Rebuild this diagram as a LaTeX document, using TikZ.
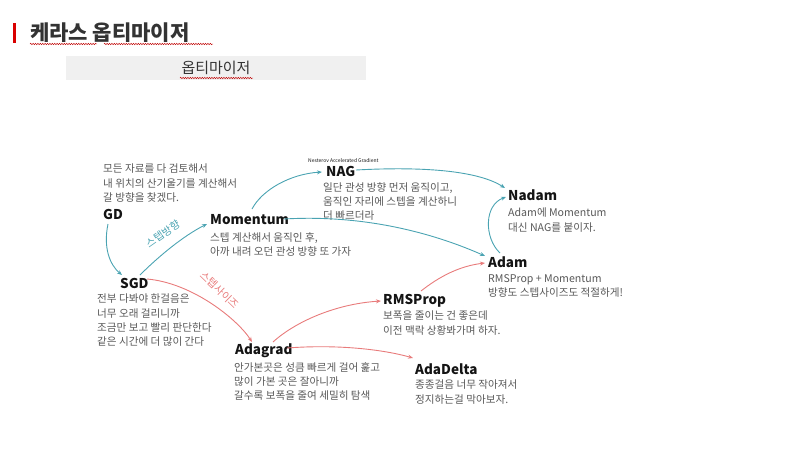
\documentclass[tikz,border=0pt]{standalone}
\usepackage{fontspec}
\setmainfont{Noto Sans CJK KR}
\usetikzlibrary{arrows.meta,calc,decorations.pathmorphing}
\definecolor{tealc}{HTML}{4AA3B2}
\definecolor{redc}{HTML}{E87B7B}
\definecolor{descc}{HTML}{585858}
\definecolor{namec}{HTML}{141414}
\definecolor{titlec}{HTML}{333333}
\begin{document}
\begin{tikzpicture}[x=1pt,y=-1pt,
  namebox/.style={anchor=base west,inner sep=0pt,text=namec,font=\fontsize{13.5}{16}\selectfont\bfseries},
  descbox/.style={anchor=north west,inner sep=0pt,align=left,text=descc,font=\fontsize{10.6}{14.3}\selectfont},
  tealarrow/.style={draw=tealc,line width=0.9pt,-{Stealth[length=5pt,width=4pt]}},
  redarrow/.style={draw=redc,line width=0.9pt,-{Stealth[length=5pt,width=4pt]}},
  squiggle/.style={draw=red!75!black,line width=0.45pt,decorate,decoration={snake,amplitude=0.7pt,segment length=2.4pt}},
  edgelabel/.style={inner sep=0pt,font=\fontsize{10.5}{12}\selectfont}]
\useasboundingbox (0,0) rectangle (796,472);
% header
\fill[red!85!black] (13,23) rectangle (16,43);
\node[anchor=base west,inner sep=0pt,text=titlec,font=\fontsize{21}{24}\selectfont\bfseries] (title) at (30,40) {케라스 옵티마이저};
\draw[squiggle] (30,44) -- (97,44);
\draw[squiggle] (104,44) -- (213,44);
\fill[black!6] (66,56) rectangle (366,80);
\node[inner sep=0pt,text=titlec,font=\fontsize{15}{18}\selectfont] (sub) at (216,68) {옵티마이저};
\draw[squiggle] (180,78) -- (253,78);
% names
\node[namebox] (GD) at (103,219) {GD};
\node[namebox] (SGD) at (120,288) {SGD};
\node[namebox] (Mom) at (210,224) {Momentum};
\node[namebox] (NAG) at (326,176) {NAG};
\node[namebox] (Nadam) at (508,200) {Nadam};
\node[namebox] (Adam) at (488,267) {Adam};
\node[namebox] (RMS) at (383,304) {RMSProp};
\node[namebox] (Adagrad) at (235,354) {Adagrad};
\node[namebox] (AdaDelta) at (415,374) {AdaDelta};
% descriptions
\node[descbox] (GDd) at (103,164) {모든 자료를 다 검토해서\\내 위치의 산기울기를 계산해서\\갈 방향을 찾겠다.};
\node[descbox] (SGDd) at (97,294) {전부 다봐야 한걸음은\\너무 오래 걸리니까\\조금만 보고 빨리 판단한다\\같은 시간에 더 많이 간다};
\node[descbox] (Momd) at (210,232) {스텝 계산해서 움직인 후,\\아까 내려 오던 관성 방향 또 가자};
\node[anchor=base west,inner sep=0pt,text=namec,font=\fontsize{5}{6}\selectfont] (NAGsmall) at (308,162) {Nesterov Accelerated Gradient};
\node[descbox] (NAGd) at (323,182) {일단 관성 방향 먼저 움직이고,\\움직인 자리에 스텝을 계산하니\\더 빠르더라};
\node[descbox] (Nadamd) at (508,208) {Adam에 Momentum\\대신 NAG를 붙이자.};
\node[descbox] (Adamd) at (488,274) {RMSProp + Momentum\\방향도 스텝사이즈도 적절하게!};
\node[descbox] (RMSd) at (383,311) {보폭을 줄이는 건 좋은데\\이전 맥락 상황봐가며 하자.};
\node[descbox] (Adagradd) at (234,362) {안가본곳은 성큼 빠르게 걸어 훑고\\많이 가본 곳은 잘아니까\\갈수록 보폭을 줄여 세밀히 탐색};
\node[descbox] (AdaDeltad) at (415,380) {종종걸음 너무 작아져서\\정지하는걸 막아보자.};
% teal connectors
\draw[tealarrow] ($(GD.base west)+(5,5)$) .. controls (103,248) and (110,265) .. ($(SGD.base west)+(2,-13)$);
\draw[tealarrow] ($(SGD.base west)+(20,-13)$) .. controls (158,257) and (183,236) .. ($(Mom.base west)+(-3,0)$);
\draw[tealarrow] ($(Mom.base west)+(42,-15)$) .. controls (262,190) and (290,174) .. ($(NAG.base west)+(-4,-4)$);
\draw[tealarrow] ($(NAG.base west)+(30,-6)$) .. controls (430,166) and (480,172) .. ($(Nadam.base west)+(-3,-12)$);
\draw[tealarrow] ($(Mom.base west)+(74,-5)$) .. controls (370,214) and (440,236) .. ($(Adam.base west)+(-3,-11)$);
\draw[tealarrow] ($(Adam.base west)+(12,-14)$) .. controls (484,238) and (484,205) .. ($(Nadam.base west)+(-2,-3)$);
% red connectors
\draw[redarrow] ($(SGD.base west)+(27,-9)$) .. controls (193,283) and (238,320) .. ($(Adagrad.base west)+(17,-12)$);
\draw[redarrow] ($(Adagrad.base west)+(38,-12)$) .. controls (295,322) and (335,304) .. ($(RMS.base west)+(-2,-3)$);
\draw[redarrow] ($(Adagrad.base west)+(52,-6)$) .. controls (340,344) and (385,350) .. ($(AdaDelta.base west)+(-2,-16)$);
\draw[redarrow] ($(RMS.base west)+(38,-13)$) .. controls (440,276) and (460,266) .. ($(Adam.base west)+(-3,-4)$);
% edge labels
\node[edgelabel,text=tealc,rotate=35] (lbldir) at (163,234) {스텝방향};
\node[edgelabel,text=redc,rotate=-44] (lblsize) at (220,290) {스텝사이즈};
\end{tikzpicture}
\end{document}
